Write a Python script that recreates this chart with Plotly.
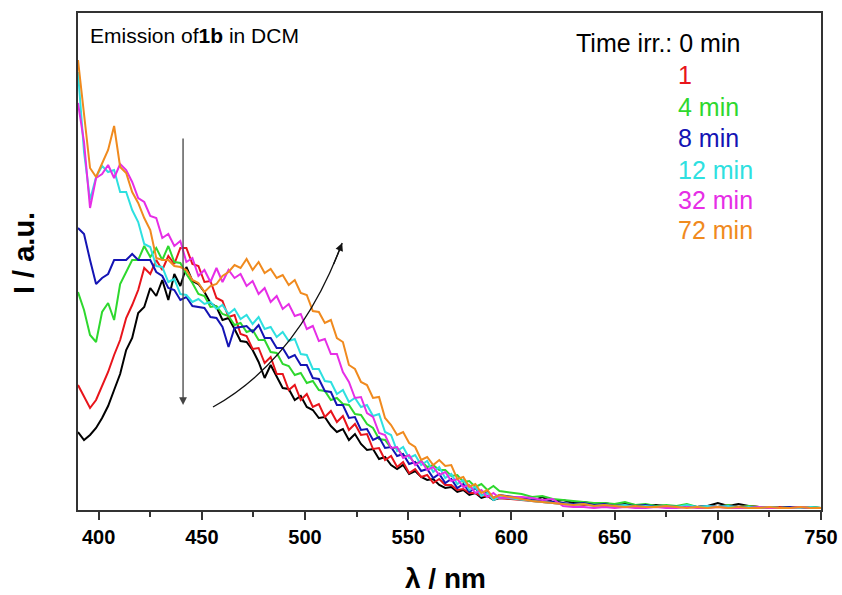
import numpy as np
import plotly.graph_objects as go

# wavelengths (nm)
wl_main = np.round(np.linspace(390, 594.2, 71), 2)
wl_tail = np.arange(605, 751, 5)

# emission intensities (a.u.)
black_main = [78, 70, 75, 82, 92, 104, 120, 136, 160, 172, 197, 203, 222, 214, 230, 210, 236, 224, 243, 229,
              226, 218, 207, 203, 190, 192, 181, 169, 168, 160, 148, 132, 145, 133, 122, 121, 110, 114, 103, 100,
              92, 93, 84, 78, 81, 70, 76, 66, 60, 61, 51, 53, 45, 41, 45, 36, 39, 33, 30, 31,
              25, 22, 23, 18, 20, 15, 17, 12, 14, 10, 12]
black_tail = [11, 9, 13, 8, 10, 7, 8, 6, 7, 5, 6, 5, 4, 5, 4, 3, 4, 3, 4, 7, 4, 6, 4, 3, 3, 2, 3, 2, 3, 2]

red_main = [125, 113, 102, 110, 125, 138, 155, 170, 192, 205, 220, 242, 236, 250, 240, 254, 246, 262, 262, 246,
            244, 228, 229, 212, 209, 193, 195, 176, 174, 161, 162, 147, 153, 136, 136, 120, 125, 110, 116, 103,
            106, 93, 99, 88, 94, 80, 86, 75, 76, 61, 62, 50, 54, 43, 48, 37, 41, 33, 35, 27,
            31, 25, 25, 20, 21, 17, 17, 14, 14, 11, 12]
red_tail = [10, 9, 8, 7, 6, 6, 5, 5, 4, 5, 4, 4, 3, 4, 3, 4, 3, 3, 4, 3, 5, 3, 4, 3, 2, 3, 2, 3, 2, 2]

green_main = [218, 200, 175, 168, 198, 207, 190, 226, 238, 250, 250, 264, 253, 262, 250, 264, 248, 247, 236, 227,
              216, 214, 203, 204, 196, 194, 185, 187, 178, 180, 170, 170, 158, 157, 146, 144, 135, 137, 127, 129,
              120, 119, 110, 112, 106, 105, 96, 95, 86, 82, 71, 70, 62, 62, 54, 54, 46, 49, 43, 45,
              40, 40, 34, 35, 28, 29, 23, 26, 20, 24, 19]
green_tail = [16, 13, 14, 11, 10, 9, 8, 7, 7, 6, 8, 5, 6, 4, 5, 4, 6, 3, 4, 3, 5, 3, 4, 3, 3, 2, 3, 2, 3, 2]

blue_main = [282, 276, 250, 226, 232, 236, 250, 250, 250, 256, 250, 250, 250, 238, 234, 222, 220, 210, 213, 204,
             203, 202, 193, 192, 183, 163, 182, 183, 184, 178, 185, 172, 172, 162, 162, 152, 155, 145, 145, 132,
             131, 119, 118, 105, 105, 92, 93, 80, 81, 70, 73, 62, 63, 54, 56, 46, 48, 39, 41, 32,
             36, 27, 31, 22, 26, 18, 22, 14, 18, 12, 15]
blue_tail = [12, 10, 9, 8, 7, 6, 7, 5, 6, 4, 5, 4, 5, 3, 4, 3, 4, 3, 4, 3, 4, 3, 3, 2, 3, 2, 3, 2, 2, 2]

cyan_main = [438, 358, 310, 333, 344, 338, 340, 318, 318, 300, 288, 266, 263, 244, 243, 228, 231, 216, 215, 208,
             211, 206, 208, 201, 205, 196, 201, 191, 195, 186, 193, 181, 183, 173, 178, 169, 171, 156, 155, 141,
             141, 129, 128, 116, 120, 108, 112, 103, 105, 94, 96, 78, 75, 59, 63, 52, 55, 45, 49, 38,
             43, 32, 36, 26, 30, 20, 23, 14, 17, 10, 13]
cyan_tail = [10, 9, 8, 7, 6, 5, 6, 4, 5, 4, 5, 3, 4, 3, 4, 3, 5, 3, 4, 3, 4, 2, 3, 2, 3, 2, 2, 2, 3, 2]

magenta_main = [407, 368, 302, 332, 336, 345, 332, 346, 340, 328, 312, 308, 294, 292, 272, 276, 264, 269, 248, 252,
                234, 240, 228, 242, 228, 240, 232, 236, 224, 229, 216, 222, 208, 214, 201, 206, 194, 196, 181, 184,
                169, 171, 156, 156, 138, 128, 112, 113, 97, 93, 77, 75, 62, 63, 52, 55, 45, 49, 40, 43,
                35, 38, 29, 31, 23, 25, 17, 20, 13, 17, 12]
magenta_tail = [13, 12, 10, 11, 4, 3, 3, 2, 3, 2, 3, 2, 2, 3, 2, 2, 3, 2, 2, 3, 2, 2, 2, 3, 2, 2, 2, 3, 2, 2]

orange_main = [450, 393, 342, 333, 347, 360, 384, 343, 337, 318, 307, 292, 280, 252, 250, 250, 244, 243, 240, 230,
               227, 218, 224, 226, 234, 238, 245, 242, 251, 240, 248, 237, 241, 232, 235, 225, 230, 217, 215, 199,
               198, 187, 190, 172, 168, 145, 141, 128, 125, 112, 113, 92, 85, 75, 78, 67, 63, 50, 53, 45,
               50, 44, 45, 31, 33, 23, 26, 17, 20, 12, 15]
orange_tail = [11, 9, 8, 7, 6, 5, 6, 4, 5, 4, 3, 4, 3, 3, 4, 3, 2, 3, 2, 3, 2, 3, 2, 2, 3, 2, 2, 3, 2, 2]

series_names = ["0 min", "1", "4 min", "8 min", "12 min", "32 min", "72 min"]
series_colors = ["#000000", "#e8141b", "#2ed82e", "#1414b4", "#2ee0e0", "#e62ee6", "#f08a1e"]
series_data = [black_main + black_tail, red_main + red_tail, green_main + green_tail,
               blue_main + blue_tail, cyan_main + cyan_tail, magenta_main + magenta_tail,
               orange_main + orange_tail]

wl = np.concatenate([wl_main, wl_tail])

FONT = "Arial, 'Liberation Sans', sans-serif"

fig = go.Figure()
for name, col, vals in zip(series_names, series_colors, series_data):
    fig.add_trace(go.Scatter(x=wl, y=vals, mode="lines", name=name,
                             line=dict(color=col, width=2), showlegend=False))

fig.update_layout(
    width=842, height=595,
    margin=dict(l=78, r=21, t=13, b=85),
    paper_bgcolor="white", plot_bgcolor="white",
    font=dict(family=FONT, color="black"),
    xaxis=dict(range=[390, 750], tickmode="array", tickvals=[400, 450, 500, 550, 600, 650, 700, 750],
               ticks="outside", ticklen=8, tickwidth=1.5, tickcolor="#333",
               minor=dict(tickvals=[425, 475, 525, 575, 625, 675, 725], ticks="outside",
                          ticklen=5, tickwidth=1.5, tickcolor="#333"),
               showline=True, linecolor="#333", linewidth=1.5, mirror=True,
               showgrid=False, zeroline=False, automargin=False,
               tickfont=dict(family=FONT, size=20, color="black", weight="bold")),
    yaxis=dict(range=[0, 497], showticklabels=False, ticks="",
               showline=True, linecolor="#333", linewidth=1.5, mirror=True,
               showgrid=False, zeroline=False, automargin=False),
)

annotations = [
    dict(x=-0.0727, y=0.517, xref="paper", yref="paper", text="<b>I / a.u.</b>", textangle=-90,
         showarrow=False, font=dict(size=29, family=FONT, color="black"), xanchor="center", yanchor="middle"),
    dict(x=0.494, y=-0.137, xref="paper", yref="paper", text="<b>λ / nm</b>",
         showarrow=False, font=dict(size=28, family=FONT, color="black"), xanchor="center", yanchor="middle"),
    dict(x=394.8, y=475, xref="x", yref="y", text="Emission of<b>1b</b> in DCM",
         showarrow=False, font=dict(size=21, family=FONT, color="black"), xanchor="left", yanchor="middle"),
    dict(x=711.9, y=467, xref="x", yref="y", text="Time irr.: 0 min",
         showarrow=False, font=dict(size=25, family=FONT, color="black"), xanchor="right", yanchor="middle"),
]
legend_y = [435, 403, 372, 340, 310, 280]
for name, col, yy in zip(series_names[1:], series_colors[1:], legend_y):
    annotations.append(dict(x=679.5, y=yy, xref="x", yref="y", text=name, showarrow=False,
                            font=dict(size=25, family=FONT, color=col), xanchor="left", yanchor="middle"))

# vertical arrow (decrease)
annotations.append(dict(x=440.9, y=105, ax=440.9, ay=373, xref="x", yref="y", axref="x", ayref="y",
                        text="", showarrow=True, arrowhead=2, arrowsize=1.2, arrowwidth=1.3,
                        arrowcolor="#444"))
# curved arrow head (increase)
annotations.append(dict(x=518.0, y=267, ax=513.6, ay=244.5, xref="x", yref="y", axref="x", ayref="y",
                        text="", showarrow=True, arrowhead=2, arrowsize=1.2, arrowwidth=1.3,
                        arrowcolor="#111"))
fig.update_layout(annotations=annotations)

fig.add_shape(type="path", xref="x", yref="y",
              path="M 455.4,103 Q 496.9,151 518.0,267",
              line=dict(color="#111", width=1.3))

fig.write_html("out.html")
